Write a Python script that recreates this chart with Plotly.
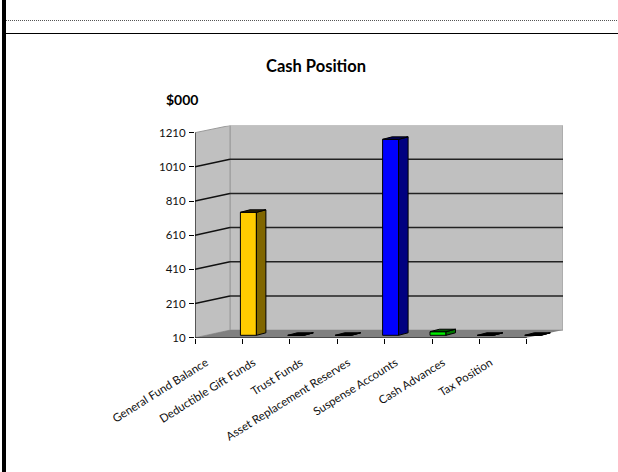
import plotly.graph_objects as go

# ---- data ----
categories = ["General Fund Balance", "Deductible Gift Funds", "Trust Funds",
              "Asset Replacement Reserves", "Suspense Accounts", "Cash Advances",
              "Tax Position", ""]
values = [None, 730, 10, 10, 1157, 31, 10, 10]
front_colors = ["#000000", "#FFCC00", "#000000", "#000000", "#0000FF", "#00EE00", "#000000", "#000000"]
side_colors = ["#000000", "#806600", "#000000", "#000000", "#000080", "#007700", "#000000", "#000000"]
top_colors = ["#000000", "#2a2000", "#000000", "#000000", "#000060", "#005500", "#000000", "#000000"]
y_ticks = [10, 210, 410, 610, 810, 1010, 1210]

# ---- geometry (page pixels -> axis units) ----
W, H = 618, 472
X0_PX, X_BACK_PX = 195, 563
Y0_PX, Y_TOP_PX = 337.7, 125.5
PX_PER_CAT = 47.4
PX_PER_VAL = 205 / 1200
X_MAX = (X_BACK_PX - X0_PX) / PX_PER_CAT
Y_MAX = 10 + (Y0_PX - Y_TOP_PX) / PX_PER_VAL
WALL_DX = 35 / PX_PER_CAT
WALL_DY = 7.6 / PX_PER_VAL
BAR_W = 16 / PX_PER_CAT
BAR_OFF = -2 / PX_PER_CAT
BAR_BASE_SHIFT = 2.4 / PX_PER_VAL
BAR_DX = 9.5 / PX_PER_CAT
BAR_DY = 2.5 / PX_PER_VAL
LAST = len(categories) - 1
idx = list(range(len(categories)))

fig = go.Figure()
fig.add_trace(go.Bar(
    x=idx,
    y=[None if v is None else v - 10 for v in values],
    base=10 + BAR_BASE_SHIFT,
    width=BAR_W, offset=BAR_OFF,
    marker=dict(color=front_colors, line=dict(color="#000000", width=1)),
    showlegend=False, hoverinfo="skip",
))
for i, v in zip(idx, values):
    if v is None:
        continue
    l = i + BAR_OFF
    r = l + BAR_W
    b = 10 + BAR_BASE_SHIFT
    t = v + BAR_BASE_SHIFT
    fig.add_trace(go.Scatter(
        x=[r, r + BAR_DX, r + BAR_DX, r, r], y=[b, b + BAR_DY, t + BAR_DY, t, b],
        mode="lines", fill="toself", fillcolor=side_colors[i],
        line=dict(color="#000000", width=1), showlegend=False, hoverinfo="skip"))
    fig.add_trace(go.Scatter(
        x=[l, l + BAR_DX, r + BAR_DX, r, l], y=[t, t + BAR_DY, t + BAR_DY, t, t],
        mode="lines", fill="toself", fillcolor=top_colors[i],
        line=dict(color="#000000", width=1), showlegend=False, hoverinfo="skip"))


def poly(xs, ys):
    return "M " + " L ".join(f"{a},{b}" for a, b in zip(xs, ys)) + " Z"


shapes = [
    # back wall
    dict(type="rect", xref="x", yref="y", x0=WALL_DX, x1=X_MAX, y0=10 + WALL_DY, y1=Y_MAX,
         fillcolor="#C0C0C0", line=dict(color="#9a9a9a", width=1), layer="below"),
    # left wall
    dict(type="path", xref="x", yref="y",
         path=poly([0, WALL_DX, WALL_DX, 0], [10, 10 + WALL_DY, Y_MAX, 1210]),
         fillcolor="#C0C0C0", line=dict(color="#9a9a9a", width=1), layer="below"),
    # floor
    dict(type="path", xref="x", yref="y",
         path=poly([0, WALL_DX, X_MAX, LAST], [10, 10 + WALL_DY, 10 + WALL_DY, 10]),
         fillcolor="#808080", line=dict(color="#808080", width=0), layer="below"),
]
for t in y_ticks[1:-1]:
    shapes.append(dict(type="line", xref="x", yref="y", x0=0, y0=t, x1=WALL_DX, y1=t + WALL_DY,
                       line=dict(color="#111111", width=1.5), layer="below"))
    shapes.append(dict(type="line", xref="x", yref="y", x0=WALL_DX, y0=t + WALL_DY, x1=X_MAX, y1=t + WALL_DY,
                       line=dict(color="#222222", width=1.5), layer="below"))
# axis lines
shapes.append(dict(type="line", xref="x", yref="y", x0=0, y0=10, x1=0, y1=1210,
                   line=dict(color="#000000", width=1), layer="below"))
shapes.append(dict(type="line", xref="x", yref="y", x0=0, y0=10, x1=LAST, y1=10,
                   line=dict(color="#000000", width=1), layer="below"))
# page rules
shapes += [
    dict(type="rect", xref="paper", yref="paper", x0=2 / W, x1=6 / W, y0=0, y1=1,
         fillcolor="#000000", line=dict(width=0)),
    dict(type="line", xref="paper", yref="paper", x0=6 / W, x1=1, y0=1 - 20.5 / H, y1=1 - 20.5 / H,
         line=dict(color="#555555", width=1, dash="1px,1px")),
    dict(type="line", xref="paper", yref="paper", x0=6 / W, x1=1, y0=1 - 33.5 / H, y1=1 - 33.5 / H,
         line=dict(color="#000000", width=1)),
]

FONT = "Lato, 'Open Sans', sans-serif"
fig.update_layout(
    width=W, height=H, autosize=False,
    margin=dict(l=0, r=0, t=0, b=0),
    paper_bgcolor="#FFFFFF", plot_bgcolor="#FFFFFF",
    showlegend=False, shapes=shapes,
    font=dict(family=FONT, color="#111111", size=12),
    annotations=[
        dict(text="<b>Cash Position</b>", xref="paper", yref="paper", x=316 / W, y=1 - 66 / H,
             xanchor="center", yanchor="middle", showarrow=False, font=dict(size=16.5, family=FONT, color="#000000")),
        dict(text="<b>$000</b>", xref="paper", yref="paper", x=181.5 / W, y=1 - 99.5 / H,
             xanchor="center", yanchor="middle", showarrow=False, font=dict(size=14, family=FONT, color="#000000")),
    ],
    xaxis=dict(domain=[X0_PX / W, X_BACK_PX / W], range=[0, X_MAX], tickmode="array", automargin=False,
               tickvals=idx, ticktext=categories, tickangle=-32, ticks="outside", ticklen=5,
               tickcolor="#000000", showgrid=False, zeroline=False, showline=False,
               ticklabelshift=11, ticklabelstandoff=8, tickfont=dict(size=11.5, family=FONT, color="#111111")),
    yaxis=dict(domain=[1 - Y0_PX / H, 1 - Y_TOP_PX / H], range=[10, Y_MAX], tickmode="array", automargin=False,
               tickvals=y_ticks, ticktext=[str(t) for t in y_ticks], ticks="outside", ticklen=5,
               tickcolor="#000000", showgrid=False, zeroline=False, showline=False, ticklabelstandoff=1,
               tickfont=dict(size=11.5, family=FONT, color="#111111")),
)
fig.write_html("out.html", config=dict(displayModeBar=False),
               post_script="document.body.style.margin='0';")
